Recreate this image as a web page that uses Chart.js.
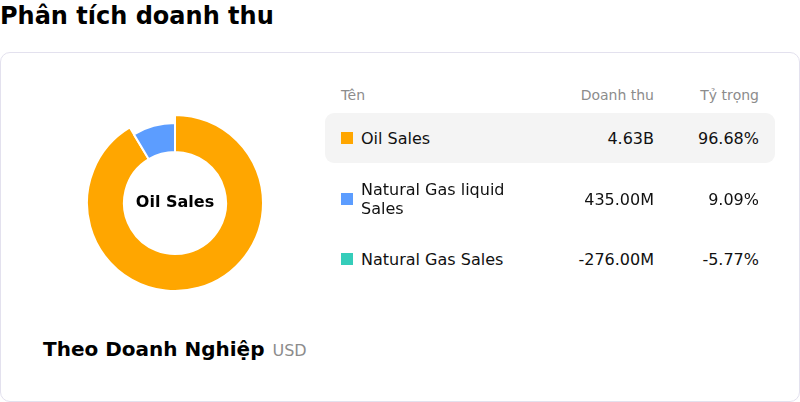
<!DOCTYPE html>
<html lang="vi">
<head>
<meta charset="utf-8">
<script src="https://cdn.jsdelivr.net/npm/chart.js@4.4.1/dist/chart.umd.min.js"></script>
<style>
  body { margin: 0; width: 800px; height: 402px; background: #fff; font-family: "DejaVu Sans", sans-serif; position: relative; overflow: hidden; }
  h1 { position: absolute; left: 0; top: 0; margin: 0; font-size: 24px; line-height: 32px; font-weight: bold; color: #000; }
  .card { position: absolute; left: 0; top: 52px; width: 800px; height: 350px; box-sizing: border-box; border: 1px solid #e3e1ee; border-radius: 10px; }
  #chartBox { position: absolute; left: 86px; top: 114px; width: 178px; height: 178px; }
  #centerLabel { position: absolute; left: 75px; top: 191px; width: 200px; text-align: center; font-size: 16px; line-height: 22px; font-weight: bold; color: #000; }
  .footer { position: absolute; left: 43px; top: 336px; line-height: 26px; font-size: 20px; font-weight: bold; color: #000; white-space: nowrap; }
  .footer span { font-size: 16px; font-weight: normal; color: #8c8c8c; margin-left: 1px; }
  .head { position: absolute; top: 86px; font-size: 14px; line-height: 18px; color: #8c8c8c; }
  .row { position: absolute; left: 325px; width: 450px; border-radius: 9px; }
  .row.active { background: #f4f4f4; }
  .cell { position: absolute; top: 50%; transform: translateY(-50%); font-size: 16px; line-height: 19px; color: #111; }
  .mark { position: absolute; left: 16px; top: 50%; width: 12px; height: 12px; margin-top: -6px; }
</style>
</head>
<body>
<h1>Phân tích doanh thu</h1>
<div class="card"></div>
<div id="chartBox"><canvas id="revChart"></canvas></div>
<div id="centerLabel"></div>
<div class="head" style="left:341px">Tên</div>
<div class="head" style="left:454px;width:200px;text-align:right">Doanh thu</div>
<div class="head" style="left:659px;width:100px;text-align:right">Tỷ trọng</div>
<div id="rows"></div>
<div class="footer">Theo Doanh Nghiệp <span>USD</span></div>

<script>
// Dữ liệu doanh thu (triệu USD)
const categories = ['Oil Sales', 'Natural Gas liquid Sales', 'Natural Gas Sales'];
const revenue = [4630, 435, -276];
const revenueLabels = ['4.63B', '435.00M', '-276.00M'];
const shareLabels = ['96.68%', '9.09%', '-5.77%'];
const colors = ['#ffa600', '#5c9dff', '#35cdba'];
const activeIndex = 0;

// row layout
const rowTops = [113, 163, 235];
const rowHeights = [50, 72, 48];

const rowsEl = document.getElementById('rows');
categories.forEach((name, i) => {
    const row = document.createElement('div');
    row.className = 'row' + (i === activeIndex ? ' active' : '');
    row.style.top = rowTops[i] + 'px';
    row.style.height = rowHeights[i] + 'px';
    row.innerHTML = `
        <div class="mark" style="background:${colors[i]}"></div>
        <div class="cell" style="left:36px;width:180px">${name}</div>
        <div class="cell" style="left:129px;width:200px;text-align:right">${revenueLabels[i]}</div>
        <div class="cell" style="left:334px;width:100px;text-align:right">${shareLabels[i]}</div>
    `;
    rowsEl.appendChild(row);
});

document.getElementById('centerLabel').textContent = categories[activeIndex];

// only positive values can be drawn as slices
const shown = categories.map((c, i) => i).filter(i => revenue[i] > 0);

// non-active slices sit a little inside the highlighted one
const activeRing = {
    id: 'activeRing',
    afterDatasetUpdate(chart, args) {
        args.meta.data.forEach((arc, j) => {
            if (shown[j] !== activeIndex) arc.outerRadius -= 8;
        });
    }
};

new Chart(document.getElementById('revChart'), {
    type: 'doughnut',
    data: {
        labels: shown.map(i => categories[i]),
        datasets: [{
            data: shown.map(i => revenue[i]),
            backgroundColor: shown.map(i => colors[i]),
            borderColor: '#ffffff',
            borderWidth: 2,
            hoverOffset: 0
        }]
    },
    options: {
        responsive: true,
        maintainAspectRatio: false,
        animation: false,
        events: [],
        cutout: '58%',
        plugins: { legend: { display: false }, tooltip: { enabled: false } }
    },
    plugins: [activeRing]
});
</script>
</body>
</html>
